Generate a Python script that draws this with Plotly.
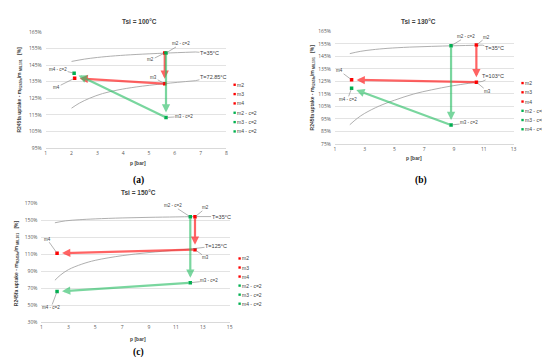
import plotly.graph_objects as go

W, H = 550, 357

series_names = ["m2", "m3", "m4", "m2 - c=2", "m3 - c=2", "m4 - c=2"]
series_colors = ["#ff0000", "#ff0000", "#ff0000", "#00b050", "#00b050", "#00b050"]

# ---------------- Panel (a): Tsi = 100°C ----------------
a_title = "Tsi = 100°C"
a_curve_hi_p = [2.0, 2.5, 3.0, 3.7, 4.5, 5.6, 6.8]
a_curve_hi_v = [147.2, 148.6, 149.6, 150.6, 151.4, 152.2, 152.9]
a_curve_lo_p = [2.0, 2.3, 2.7, 3.2, 3.8, 4.5, 5.6, 6.8]
a_curve_lo_v = [119.0, 122.0, 125.0, 127.8, 130.0, 131.8, 133.8, 135.6]
a_curve_hi_label = "T=35°C"
a_curve_lo_label = "T=72.85°C"
a_pts_p = [5.61, 5.61, 2.12, 5.66, 5.66, 2.10]
a_pts_v = [152.3, 133.8, 137.1, 152.3, 113.4, 140.1]

# ---------------- Panel (b): Tsi = 130°C ----------------
b_title = "Tsi = 130°C"
b_curve_hi_p = [2.0, 2.7, 3.5, 4.5, 6.0, 7.5, 9.0, 10.9]
b_curve_hi_v = [147.2, 149.0, 150.3, 151.4, 152.4, 153.0, 153.5, 154.0]
b_curve_lo_p = [2.0, 2.5, 3.0, 4.0, 5.0, 6.3, 7.5, 8.8, 10.0, 10.9]
b_curve_lo_v = [90.4, 95.5, 99.5, 105.5, 110.0, 115.0, 118.3, 121.3, 123.5, 125.0]
b_curve_hi_label = "T=35°C"
b_curve_lo_label = "T=103°C"
b_pts_p = [10.50, 10.50, 2.12, 8.80, 8.80, 2.12]
b_pts_v = [154.0, 124.4, 126.3, 153.5, 90.2, 119.5]

# ---------------- Panel (c): Tsi = 150°C ----------------
c_title = "Tsi = 150°C"
c_curve_hi_p = [2.0, 2.8, 3.8, 5.0, 7.0, 9.0, 11.0, 12.5]
c_curve_hi_v = [147.2, 149.5, 150.8, 151.8, 152.9, 153.6, 154.1, 154.5]
c_curve_lo_p = [2.0, 2.4, 3.0, 4.0, 5.0, 7.0, 9.0, 11.0, 12.2]
c_curve_lo_v = [79.5, 85.5, 92.0, 98.5, 103.0, 108.5, 112.2, 115.0, 116.5]
c_curve_hi_label = "T=35°C"
c_curve_lo_label = "T=125°C"
c_pts_p = [12.42, 12.42, 2.16, 12.07, 12.07, 2.16]
c_pts_v = [154.2, 115.6, 111.4, 154.2, 76.7, 66.3]

# axis ranges / ticks
a_xr, a_yr, a_xd, a_yd = [1, 8], [95, 165], 1, 10
b_xr, b_yr, b_xd, b_yd = [1, 13], [75, 165], 2, 10
c_xr, c_yr, c_xd, c_yd = [1, 15], [30, 170], 2, 20

ytitle = "R245fa uptake - m<sub>R245fa</sub>/m <sub>MIL101</sub>   [%]"
xtitle = "p [bar]"

# ------------- layout geometry (pixels) -------------
panels = [
    dict(key="", title=a_title, hp=a_curve_hi_p, hv=a_curve_hi_v, lp=a_curve_lo_p, lv=a_curve_lo_v,
         hl=a_curve_hi_label, ll=a_curve_lo_label, pp=a_pts_p, pv=a_pts_v,
         xr=a_xr, yr=a_yr, xd=a_xd, yd=a_yd, box=(37, 219, 21.3, 139.3),
         title_xy=(131, 11), xt_xy=(130, 155), yt_xy=(11, 80), lab="(a)", lab_xy=(130, 172),
         leg=(227.3, 229.1, 75, 9.5),
         labels=[(3, 15, -9), (0, -14, 7), (1, -11, -6), (2, -18, 9), (5, -16, -4), (4, 18, -1)],
         hl_off=(14, 1), ll_off=(18, -4)),
    dict(key="2", title=b_title, hp=b_curve_hi_p, hv=b_curve_hi_v, lp=b_curve_lo_p, lv=b_curve_lo_v,
         hl=b_curve_hi_label, ll=b_curve_lo_label, pp=b_pts_p, pv=b_pts_v,
         xr=b_xr, yr=b_yr, xd=b_xd, yd=b_yd, box=(328.3, 508.3, 20.7, 135.3),
         title_xy=(413, 11), xt_xy=(408, 150), yt_xy=(306, 78), lab="(b)", lab_xy=(415, 172),
         leg=(517.3, 519.1, 73.3, 9.4),
         labels=[(0, 10, -8), (3, 15, -9), (1, 11, 9), (2, -12, -9), (5, -4, 11), (4, 18, -2)],
         hl_off=(12, 3), ll_off=(11, -5)),
    dict(key="3", title=c_title, hp=c_curve_hi_p, hv=c_curve_hi_v, lp=c_curve_lo_p, lv=c_curve_lo_v,
         hl=c_curve_hi_label, ll=c_curve_lo_label, pp=c_pts_p, pv=c_pts_v,
         xr=c_xr, yr=c_yr, xd=c_xd, yd=c_yd, box=(32.7, 222.3, 195.7, 316.7),
         title_xy=(130, 185), xt_xy=(130, 334), yt_xy=(7.5, 256), lab="(c)", lab_xy=(130, 347),
         leg=(232.3, 234.1, 251.7, 9.2),
         labels=[(0, 11, -9), (3, -17, -11), (1, 11, 8), (2, -10, -14), (5, -6, 16), (4, 19, -2)],
         hl_off=(25, 0), ll_off=(24, -3)),
]

def px(x):
    return x / W

def py(y):
    return 1 - y / H

fig = go.Figure()
annotations = []
shapes = []
layout = {}

GRAY = "#a6a6a6"
TXT = "#404040"
font_fam = "Liberation Sans, Arial, sans-serif"

def paper_text(x, y, text, size, color=TXT, family=font_fam, angle=0, xanchor="center"):
    return dict(x=px(x), y=py(y), xref="paper", yref="paper", text=text, showarrow=False,
                xanchor=xanchor, yanchor="middle", textangle=angle, borderpad=0,
                font=dict(size=size, color=color, family=family))

for P in panels:
    k = P["key"]
    xa, ya = "x" + k, "y" + k
    x0, x1, y0, y1 = P["box"]
    layout["xaxis" + k] = dict(domain=[px(x0), px(x1)], range=P["xr"], tick0=P["xr"][0], dtick=P["xd"],
                               anchor=ya, showgrid=False, zeroline=False, showline=True,
                               linecolor="#d9d9d9", linewidth=0.8, ticks="",
                               tickfont=dict(size=5, color="#595959"), fixedrange=True)
    layout["yaxis" + k] = dict(domain=[py(y1), py(y0)], range=P["yr"], tick0=P["yr"][0], dtick=P["yd"],
                               anchor=xa, showgrid=True, gridcolor="#e3e3e3", gridwidth=0.6,
                               zeroline=False, showline=False, ticks="", ticksuffix="%",
                               tickfont=dict(size=5, color="#595959"), ticklabelstandoff=3,
                               fixedrange=True)
    # gray isotherm curves
    for cp, cv in ((P["hp"], P["hv"]), (P["lp"], P["lv"])):
        fig.add_trace(go.Scatter(x=cp, y=cv, mode="lines", xaxis=xa, yaxis=ya,
                                 line=dict(color=GRAY, width=0.9, shape="spline"),
                                 showlegend=False, hoverinfo="skip"))
    pp, pv = P["pp"], P["pv"]
    # arrows m2->m3, m3->m4 (red) ; m2c->m3c, m3c->m4c (green)
    for (i, j, col) in ((0, 1, "rgba(255,40,40,0.72)"), (1, 2, "rgba(255,40,40,0.72)"),
                        (3, 4, "rgba(40,190,100,0.62)"), (4, 5, "rgba(40,190,100,0.62)")):
        annotations.append(dict(x=pp[j], y=pv[j], ax=pp[i], ay=pv[i], xref=xa, yref=ya,
                                axref=xa, ayref=ya, showarrow=True, arrowhead=2, arrowsize=0.75,
                                arrowwidth=2.2, arrowcolor=col, standoff=5, text=""))
    # markers
    for n in range(6):
        fig.add_trace(go.Scatter(x=[pp[n]], y=[pv[n]], mode="markers", xaxis=xa, yaxis=ya,
                                 name=series_names[n],
                                 marker=dict(symbol="square", size=3.5, color=series_colors[n]),
                                 showlegend=False))
    # point labels with leader lines
    for (n, dx, dy) in P["labels"]:
        annotations.append(dict(x=pp[n], y=pv[n], xref=xa, yref=ya, text=series_names[n],
                                showarrow=True, arrowhead=0, arrowwidth=0.6, arrowcolor="#7f7f7f",
                                ax=dx, ay=dy, standoff=1, borderpad=0,
                                font=dict(size=4.5, color=TXT, family=font_fam)))
    # curve labels
    for cp, cv, lab, off in ((P["hp"], P["hv"], P["hl"], P["hl_off"]),
                             (P["lp"], P["lv"], P["ll"], P["ll_off"])):
        annotations.append(dict(x=cp[-1], y=cv[-1], xref=xa, yref=ya, text=lab,
                                showarrow=True, arrowhead=0, arrowwidth=0.6, arrowcolor="#7f7f7f",
                                ax=off[0], ay=off[1], standoff=0, borderpad=0,
                                font=dict(size=5.5, color=TXT, family=font_fam)))
    # titles
    annotations.append(paper_text(*P["title_xy"], "<b>" + P["title"] + "</b>", 6.5))
    annotations.append(paper_text(*P["xt_xy"], "<b>" + xtitle + "</b>", 5))
    annotations.append(paper_text(*P["yt_xy"], "<b>" + ytitle + "</b>", 5, angle=-90))
    annotations.append(paper_text(*P["lab_xy"], "<b>" + P["lab"] + "</b>", 9.5, color="#000000",
                                  family="Liberation Serif, DejaVu Serif, serif"))
    # manual legend
    mx, lx, ly0, dy = P["leg"]
    for n in range(6):
        yy = ly0 + n * dy
        shapes.append(dict(type="rect", xref="paper", yref="paper",
                           x0=px(mx - 1.2), x1=px(mx + 1.2), y0=py(yy + 1.2), y1=py(yy - 1.2),
                           fillcolor=series_colors[n], line=dict(width=0)))
        annotations.append(paper_text(lx, yy, series_names[n], 5, xanchor="left"))

fig.update_layout(width=W, height=H, autosize=False, margin=dict(l=0, r=0, t=0, b=0),
                  paper_bgcolor="white", plot_bgcolor="white", showlegend=False,
                  annotations=annotations, shapes=shapes, **layout)

fig.write_html("out.html")
